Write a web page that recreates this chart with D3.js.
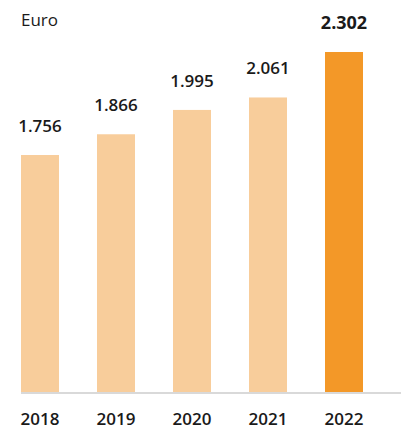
<!DOCTYPE html>
<html>
<head>
<meta charset="utf-8">
<script src="https://cdn.jsdelivr.net/npm/d3@7"></script>
<style>
  body { margin: 0; background: #fff; }
  text { font-family: "Open Sans", "Noto Sans", sans-serif; fill: #1a1a1a; }
</style>
</head>
<body>
<script>
// chart data
const years = ["2018", "2019", "2020", "2021", "2022"];
const values = [1.756, 1.866, 1.995, 2.061, 2.302];
const valueLabels = ["1.756", "1.866", "1.995", "2.061", "2.302"];
const unitLabel = "Euro";

const width = 401, height = 430;
const baseY = 392;

const svg = d3.select("body").append("svg")
  .attr("width", width)
  .attr("height", height);

// x band scale for the five years
const x = d3.scaleBand()
  .domain(years)
  .range([2, 382])
  .paddingInner(0.5)
  .paddingOuter(0.25);

// value axis does not start at zero
const y = d3.scaleLinear()
  .domain([0.5, 2.302])
  .range([baseY, 52]);

svg.append("text")
  .attr("x", 21)
  .attr("y", 26)
  .attr("font-size", 17)
  .text(unitLabel);

svg.selectAll("rect.bar")
  .data(values)
  .enter()
  .append("rect")
  .attr("class", "bar")
  .attr("x", (d, i) => x(years[i]))
  .attr("y", d => y(d))
  .attr("width", x.bandwidth())
  .attr("height", d => baseY - y(d))
  .attr("fill", (d, i) => i === values.length - 1 ? "#f39828" : "#f8cd9b");

// baseline
svg.append("line")
  .attr("x1", 21)
  .attr("x2", width)
  .attr("y1", baseY + 1)
  .attr("y2", baseY + 1)
  .attr("stroke", "#d9d9d9")
  .attr("stroke-width", 2);

svg.selectAll("text.val")
  .data(values)
  .enter()
  .append("text")
  .attr("class", "val")
  .attr("x", (d, i) => x(years[i]) + x.bandwidth() / 2)
  .attr("y", d => y(d) - 23)
  .attr("text-anchor", "middle")
  .attr("font-size", (d, i) => i === values.length - 1 ? 18 : 17)
  .attr("font-weight", (d, i) => i === values.length - 1 ? 700 : 600)
  .text((d, i) => valueLabels[i]);

svg.selectAll("text.year")
  .data(years)
  .enter()
  .append("text")
  .attr("class", "year")
  .attr("x", d => x(d) + x.bandwidth() / 2)
  .attr("y", 425)
  .attr("text-anchor", "middle")
  .attr("font-size", 17)
  .attr("font-weight", 600)
  .text(d => d);
</script>
</body>
</html>
